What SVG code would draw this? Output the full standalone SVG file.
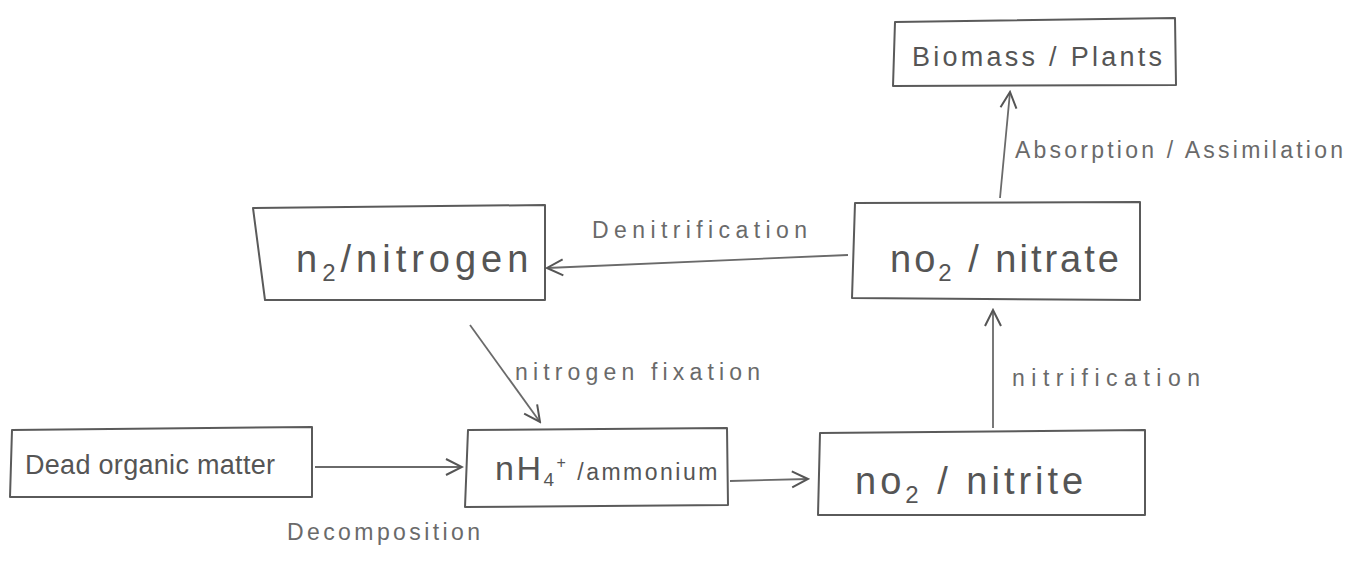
<svg xmlns="http://www.w3.org/2000/svg" width="1365" height="562" viewBox="0 0 1365 562">
<style>
.box{fill:none;stroke:#5a5a5a;stroke-width:2;stroke-linejoin:round}
.lbl{font-family:"Liberation Sans",Arial,sans-serif;fill:#6a6a6a;font-size:23px}
.big{font-family:"Liberation Sans",Arial,sans-serif;fill:#555;font-size:38px}
.mid{font-family:"Liberation Sans",Arial,sans-serif;fill:#555;font-size:27px}
.con{fill:none;stroke:#6a6a6a;stroke-width:1.8}
</style>
<defs>
<marker id="ah" viewBox="0 0 20 20" refX="18" refY="10" markerWidth="20" markerHeight="20" markerUnits="userSpaceOnUse" orient="auto">
<path d="M2,2 L18,10 L2,18" fill="none" stroke="#555" stroke-width="2"/>
</marker>
</defs>
<rect width="1365" height="562" fill="#fff"/>
<g id="biomass">
<path class="box" d="M895,22 L1175,18 L1176,85 L893,86 Z"/>
<text class="mid" x="912" y="66" textLength="250" lengthAdjust="spacing">Biomass / Plants</text>
</g>
<g id="nitrogen">
<path class="box" d="M253,208 L545,205 L545,300 L265,300 Z"/>
<text class="big" x="296" y="272" letter-spacing="5">n<tspan font-size="24" dy="9">2</tspan><tspan dy="-9">/nitrogen</tspan></text>
</g>
<g id="nitrate">
<path class="box" d="M855,203 L1140,202 L1140,300 L852,298 Z"/>
<text class="big" x="890" y="272" letter-spacing="3">no<tspan font-size="24" dy="9">2</tspan><tspan dy="-9"> / nitrate</tspan></text>
</g>
<g id="deadmatter">
<path class="box" d="M12,430 L312,427 L312,497 L10,497 Z"/>
<text class="mid" x="25" y="474" textLength="250" lengthAdjust="spacing">Dead organic matter</text>
</g>
<g id="ammonium">
<path class="box" d="M468,430 L727,428 L728,505 L465,507 Z"/>
<text class="mid" x="495" y="480" letter-spacing="2.5"><tspan font-size="34">nH</tspan><tspan font-size="19" dy="6">4</tspan><tspan font-size="16" dy="-18">+</tspan><tspan font-size="23" dy="12"> /ammonium</tspan></text>
</g>
<g id="nitrite">
<path class="box" d="M820,433 L1145,430 L1145,515 L818,515 Z"/>
<text class="big" x="855" y="494" fill="#777" letter-spacing="4">no<tspan font-size="24" dy="9">2</tspan><tspan dy="-9"> / nitrite</tspan></text>
</g>
<g id="connectors">
<path class="con" d="M1000,198 L1010,92" marker-end="url(#ah)"/>
<path class="con" d="M848,255 L547,268" marker-end="url(#ah)"/>
<path class="con" d="M470,325 L540,422" marker-end="url(#ah)"/>
<path class="con" d="M993,428 L993,310" marker-end="url(#ah)"/>
<path class="con" d="M315,467 L462,467" marker-end="url(#ah)"/>
<path class="con" d="M730,481 L808,479" marker-end="url(#ah)"/>
</g>
<g id="labels">
<text class="lbl" x="1015" y="158" textLength="328" lengthAdjust="spacing">Absorption / Assimilation</text>
<text class="lbl" x="592" y="238" textLength="215" lengthAdjust="spacing">Denitrification</text>
<text class="lbl" x="515" y="380" textLength="245" lengthAdjust="spacing">nitrogen fixation</text>
<text class="lbl" x="1012" y="386" textLength="188" lengthAdjust="spacing">nitrification</text>
<text class="lbl" x="287" y="540" textLength="193" lengthAdjust="spacing">Decomposition</text>
</g>
</svg>
